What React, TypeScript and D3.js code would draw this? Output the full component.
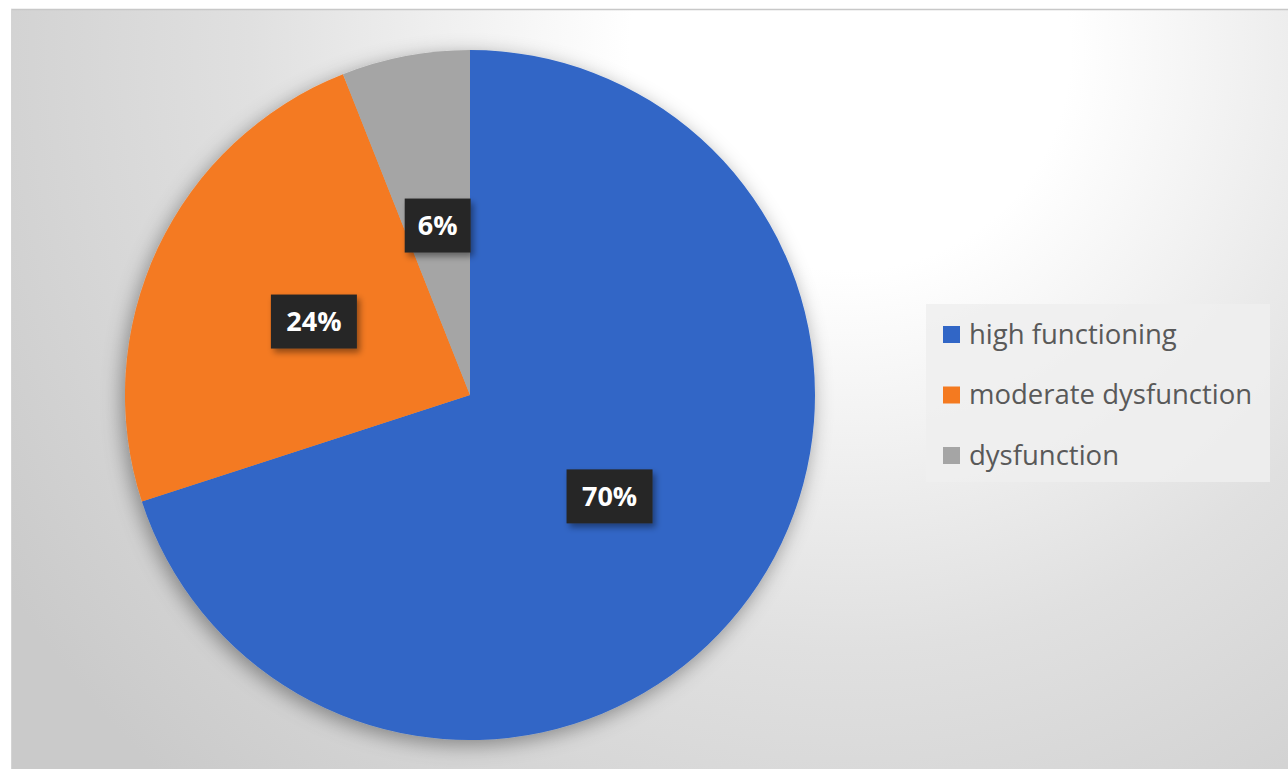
import React from "react";
import * as d3 from "d3";

const categories = ["high functioning", "moderate dysfunction", "dysfunction"];
const values = [70, 24, 6];
const labels = ["70%", "24%", "6%"];
const colors = ["#3166C6", "#F47A20", "#A5A5A5"];

const W = 1288;
const H = 769;

export default function App() {
  const cx = 470;
  const cy = 395;
  const R = 345;
  const pie = d3.pie<number>().sort(null).value((d) => d)(values);
  const arc = d3.arc<d3.PieArcDatum<number>>().innerRadius(0).outerRadius(R);

  const legendX = 926;
  const legendY = 304;
  const legendRows = d3.scalePoint<string>().domain(categories).range([334, 455]);

  return (
    <svg
      width={W}
      height={H}
      style={{ position: "absolute", left: 0, top: 0 }}
      fontFamily="'Open Sans', Lato, sans-serif"
    >
      <defs>
        <radialGradient id="bg" gradientUnits="userSpaceOnUse" cx={850} cy={50} r={1000}>
          <stop offset="0" stopColor="#ffffff" />
          <stop offset="0.22" stopColor="#ffffff" />
          <stop offset="0.6" stopColor="#e0e0e0" />
          <stop offset="1" stopColor="#cacaca" />
        </radialGradient>
        <filter id="pieShadow" x="-20%" y="-20%" width="140%" height="140%">
          <feDropShadow dx="-3" dy="5" stdDeviation="10" floodColor="#000" floodOpacity="0.38" />
        </filter>
        <filter id="boxShadow" x="-30%" y="-30%" width="160%" height="160%">
          <feDropShadow dx="3" dy="4" stdDeviation="3" floodColor="#000" floodOpacity="0.4" />
        </filter>
      </defs>
      <rect x={0} y={0} width={W} height={H} fill="#ffffff" />
      <rect x={11} y={9} width={W - 11} height={H - 9} fill="url(#bg)" />
      <line x1={11} y1={9.5} x2={W} y2={9.5} stroke="#c8c8c8" strokeWidth={1.5} />
      <line x1={11.5} y1={9} x2={11.5} y2={H} stroke="#d4d4d4" strokeWidth={1} />

      <g transform={`translate(${cx},${cy})`}>
        <g filter="url(#pieShadow)">
          {pie.map((p, i) => (
            <path key={i} d={arc(p) || ""} fill={colors[i]} />
          ))}
        </g>
        {pie.map((p, i) => {
          const [lx, ly] = arc.centroid(p);
          const bw = labels[i].length === 2 ? 66 : 86;
          const bh = 54;
          return (
            <g key={"l" + i} transform={`translate(${lx},${ly})`}>
              <rect
                x={-bw / 2}
                y={-bh / 2}
                width={bw}
                height={bh}
                fill="#282828"
                filter="url(#boxShadow)"
              />
              <text
                x={0}
                y={0}
                dy="0.36em"
                textAnchor="middle"
                fill="#ffffff"
                fontSize={27}
                fontWeight="bold"
              >
                {labels[i]}
              </text>
            </g>
          );
        })}
      </g>

      <rect x={legendX} y={legendY} width={344} height={178} fill="#efefef" opacity={0.85} />
      {categories.map((c, i) => {
        const y = legendRows(c) as number;
        return (
          <g key={c}>
            <rect x={943} y={y - 8} width={17} height={17} fill={colors[i]} />
            <text x={969} y={y} dy="0.35em" fontSize={27.5} fill="#595959">
              {c}
            </text>
          </g>
        );
      })}
    </svg>
  );
}
